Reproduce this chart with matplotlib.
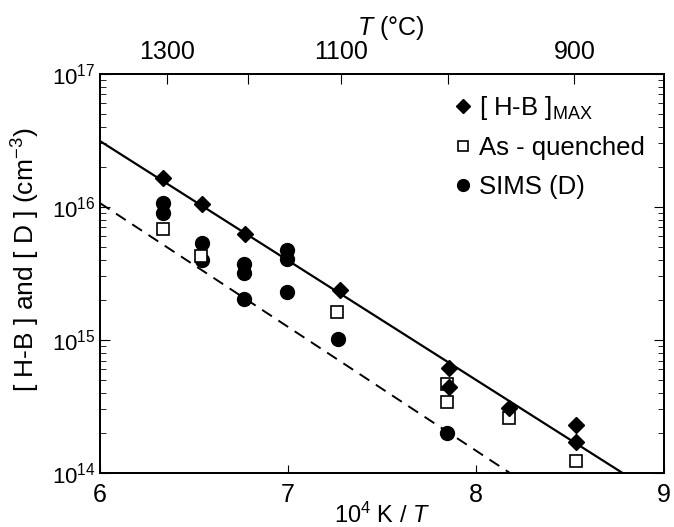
import numpy as np
import matplotlib.pyplot as plt
from matplotlib.ticker import LogLocator, NullFormatter, FixedLocator

plt.rcParams['font.family'] = ['Liberation Sans', 'DejaVu Sans']
plt.rcParams['mathtext.fontset'] = 'custom'
plt.rcParams['mathtext.rm'] = 'Liberation Sans'
plt.rcParams['mathtext.it'] = 'Liberation Sans:italic'

# [H-B]max (diamonds)
hb_x = [6.337, 6.546, 6.771, 7.28, 7.858, 7.858, 8.177, 8.532, 8.532]
hb_y = [1.64e16, 1.05e16, 6.2e15, 2.38e15, 6.1e14, 4.45e14, 3.06e14, 2.3e14, 1.70e14]

# as-quenched (open squares)
aq_x = [6.337, 6.541, 7.26, 7.849, 7.849, 8.177, 8.532]
aq_y = [6.8e15, 4.3e15, 1.62e15, 4.67e14, 3.44e14, 2.58e14, 1.24e14]

# SIMS (D) (filled circles)
sims_x = [6.337, 6.337, 6.546, 6.546, 6.768, 6.768, 6.768, 6.998, 6.998, 6.998, 7.268, 7.849]
sims_y = [1.07e16, 8.97e15, 5.33e15, 4.0e15, 3.72e15, 3.2e15, 2.02e15,
          4.75e15, 4.05e15, 2.31e15, 1.02e15, 2.01e14]

# fit lines (end points)
fit_hb_x = [6.0, 8.78]
fit_hb_y = [3.13e16, 1.0e14]
fit_d_x = [6.0, 8.181]
fit_d_y = [1.07e16, 1.0e14]

top_ticks_c = [1300, 1200, 1100, 1000, 900]
top_labels = ['1300', '', '1100', '', '900']

fig = plt.figure(figsize=(6.74, 5.27), dpi=100)
ax = fig.add_axes([0.148, 0.1025, 0.837, 0.7575])

ax.plot(fit_hb_x, fit_hb_y, color='black', lw=1.6)
ax.plot(fit_d_x, fit_d_y, color='black', lw=1.4, ls=(0, (6, 4)))

ax.plot(sims_x, sims_y, 'o', color='black', ms=10, ls='none', label='SIMS (D)')
ax.plot(aq_x, aq_y, 's', mfc='white', mec='black', mew=1.2, ms=8.5, ls='none', label='As - quenched')
ax.plot(hb_x, hb_y, 'D', color='black', ms=8.5, ls='none', label='[ H-B ]$_{\\mathrm{MAX}}$')

ax.set_yscale('log')
ax.set_xlim(6, 9)
ax.set_ylim(1e14, 1e17)
ax.set_xticks([6, 7, 8, 9])
ax.yaxis.set_major_locator(LogLocator(base=10, numticks=10))
ax.yaxis.set_minor_locator(LogLocator(base=10, subs=np.arange(2, 10), numticks=20))
ax.yaxis.set_minor_formatter(NullFormatter())
ax.tick_params(axis='both', which='both', direction='in', right=True, top=False)
ax.tick_params(axis='y', which='major', length=7, labelsize=16, pad=3)
ax.tick_params(axis='y', which='minor', length=4)
ax.tick_params(axis='x', which='major', length=6, pad=7, labelsize=18)

ax.set_xlabel('10$^4$ K / $T$', fontsize=17, labelpad=-3)
ax.set_ylabel('[ H-B ] and [ D ] (cm$^{-3}$)', fontsize=19)
ax.yaxis.set_label_coords(-0.102, 0.534)

# top axis in degrees C
top = ax.twiny()
top.set_xlim(ax.get_xlim())
top_pos = [1e4 / (t + 273.15) for t in top_ticks_c]
top.xaxis.set_major_locator(FixedLocator(top_pos))
top.set_xticklabels(top_labels)
top.tick_params(axis='x', direction='in', length=7, labelsize=18, pad=7)
top.set_xlabel('$T$ (°C)', fontsize=18)
top.xaxis.set_label_coords(0.516, 1.097)

handles, labels = ax.get_legend_handles_labels()
order = [2, 1, 0]
leg = ax.legend([handles[i] for i in order], [labels[i] for i in order],
                loc='upper left', bbox_to_anchor=(0.585, 1.0), frameon=False,
                fontsize=18.5, handletextpad=0.1, handlelength=1.0,
                markerscale=0.85, labelspacing=0.55, borderpad=0.3)

for a in (ax, top):
    for s in a.spines.values():
        s.set_linewidth(1.3)

fig.savefig('out.png', dpi=100)
